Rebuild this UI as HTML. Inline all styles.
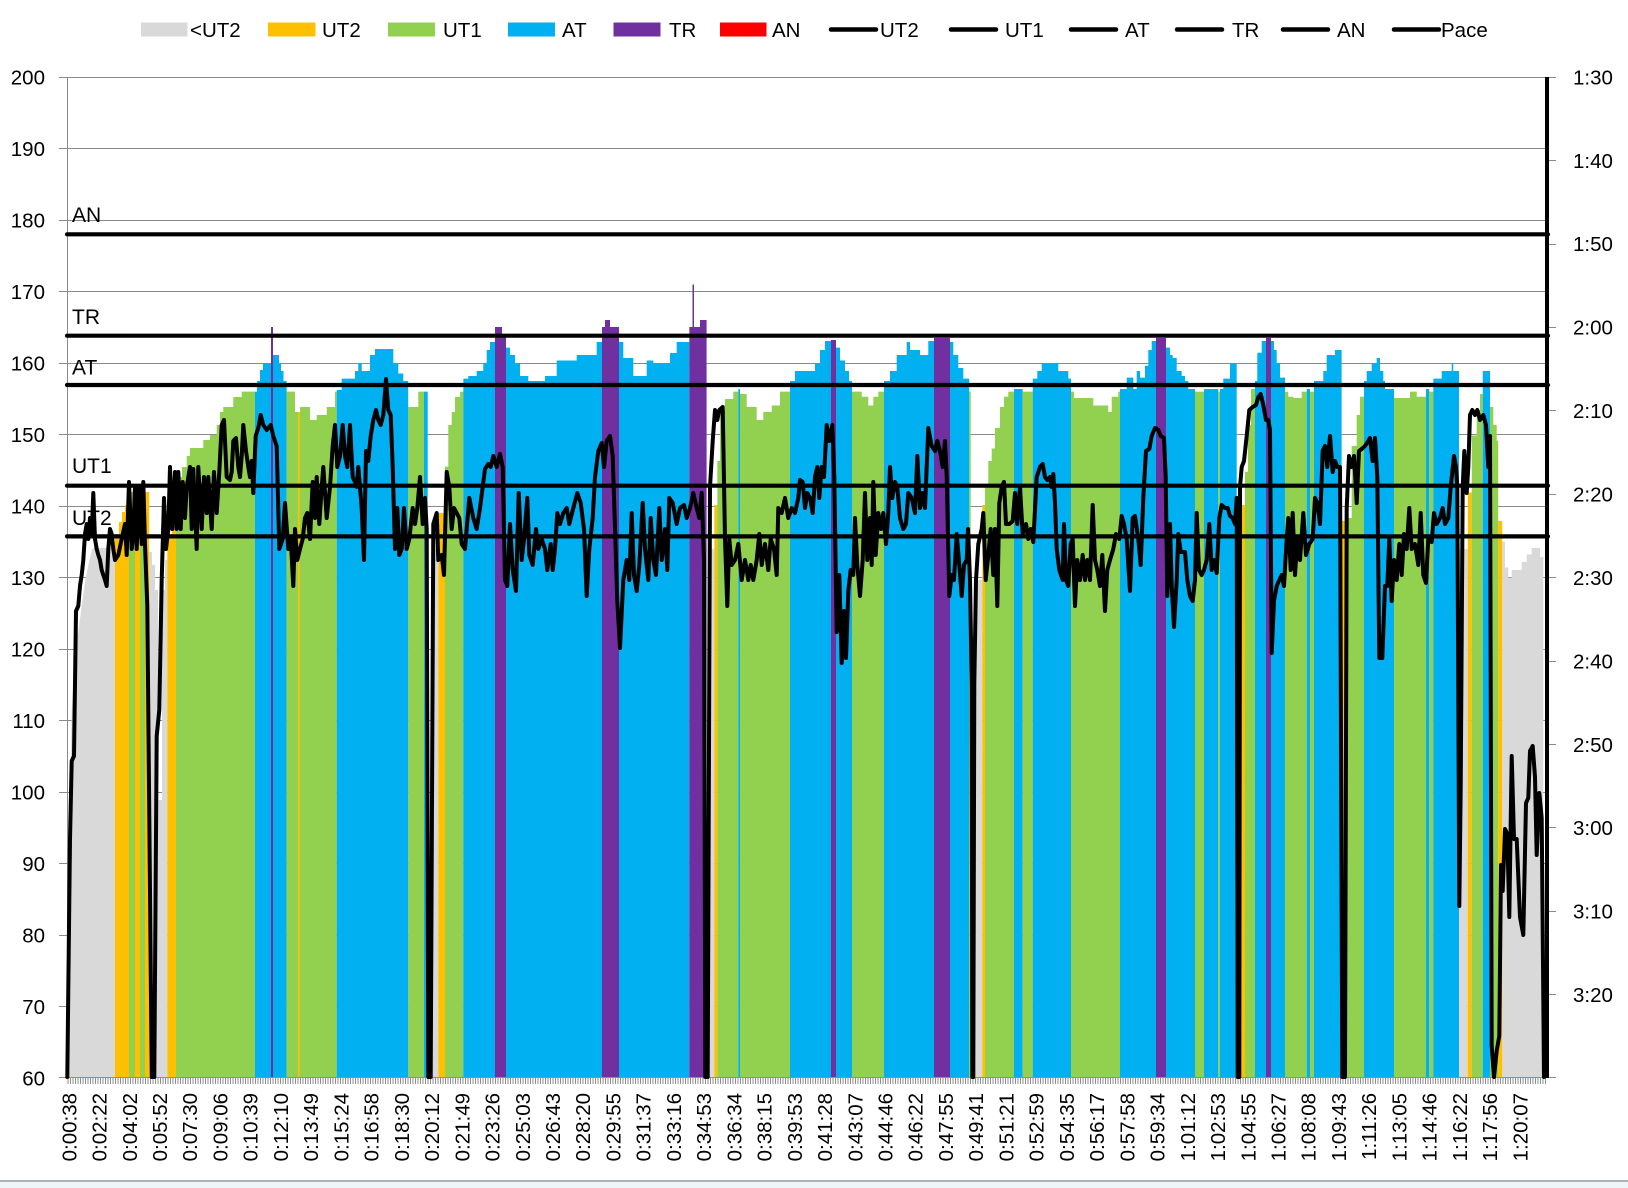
<!DOCTYPE html>
<html><head><meta charset="utf-8"><style>
html,body{margin:0;padding:0;background:#fff;}
svg{display:block;}
text{font-family:"Liberation Sans",Arial,sans-serif;}
</style></head><body>
<svg width="1628" height="1188" viewBox="0 0 1628 1188" xmlns="http://www.w3.org/2000/svg">
<defs>
<pattern id="tk" width="2.5" height="8" patternUnits="userSpaceOnUse"><rect width="1" height="8" fill="#8c8c8c"/></pattern>
<clipPath id="hr"><path d="M67.3,1077 L68.5,880 70,790 71.7,712 73.5,680 75,645 78.3,632 81.7,606 85,582 88.3,565 91.7,550 93,548 H115 V534 H119 V522 H122 V512 H125 V505 H129 V492 H135 V490 H140 V487 H145 V492 H149.3 V552 H152 V565 H155 V590 H158 V800 H162 V590 H165 V560 H167.3 V534 H172 V518 H176 V477 H182 V467 H186.7 V456 H190 V448 H203.3 V440 H210 V435 H216.7 V425 H220 V412 H223.3 V407 H233.3 V397 H241.7 V391.6 H257 V381 H260 V370 H263 V363 H271 V327 H273 V355 H279 V363 H281 V371 H283.5 V381 H286.7 V391.6 H295 V412 H300 V407 H310 V420 H316.7 V415 H326.7 V407 H335 V391.6 H336.7 V390 H341.7 V378.6 H355 V371 H358.3 V363 H361.7 V371 H370 V355 H375 V349 H393.3 V363 H398.3 V373.5 H403.3 V381 H408.3 V407 H418.3 V391.6 H427.7 V1077 H431.7 V549 H438.3 V513 H445 V466.6 H448.3 V425 H451.7 V412 H455 V397 H460 V391.6 H463.3 V378.6 H468.3 V376 H476.7 V371 H483.3 V363 H486.7 V350 H490 V342 H495 V327 H502 V334.7 H506 V347.6 H510 V355 H515 V363 H520 V376 H528.3 V381 H545 V376 H556.7 V360.5 H576.7 V355 H596.7 V342 H602 V327 H605 V320 H610 V327 H619 V342 H623.3 V358 H633.3 V376 H646.7 V360.5 H653.3 V363 H670 V353 H676.7 V342 H689.3 V327 H692.5 V284.5 H694 V327 H700 V320 H706.7 V1077 H709.3 V549 H714.3 V505 H717.3 V461 H720 V410 H725 V399 H733.3 V391.6 H738.3 V389 H740 V394 H746.7 V407 H756.7 V420 H763.3 V412 H771.7 V405.5 H780 V391.6 H790 V381 H795 V371 H815 V363 H820 V350 H825 V341 H831 V340 H836 V347.6 H840 V360.5 H845 V371 H849 V381 H852 V391.6 H861.7 V396.7 H868.3 V405.5 H873.3 V396.7 H878.3 V391.6 H884 V381 H890 V371 H896.7 V355 H906.7 V342 H910 V350 H920 V355 H928.3 V341 H934 V338 H950 V342 H953.3 V355 H958.3 V368 H963.3 V378.6 H969.3 V391.6 H970.7 V1077 H975 V580 H982.3 V505 H985 V484.7 H988.3 V461 H991.7 V448.5 H995 V428 H1000 V407 H1004 V396.7 H1008.3 V391.6 H1014 V389 H1022.7 V391.6 H1032.7 V378.6 H1037.3 V371 H1041.7 V363 H1058.3 V371 H1068.3 V378.6 H1071 V391.6 H1074 V398 H1093.3 V405.5 H1108.3 V412 H1111.7 V396.7 H1118.3 V391.6 H1120 V389 H1126.7 V377.6 H1133.3 V389 H1136.7 V371 H1140 V377.6 H1145 V365.7 H1148.3 V350 H1151.7 V341 H1156 V338 H1166 V347.6 H1170 V355 H1172.7 V358 H1176.7 V371 H1181.7 V376 H1185 V381 H1188.3 V389 H1195 V391.6 H1204 V389 H1218.3 V391.6 H1220 V389 H1223.3 V378.6 H1230 V363 H1236.7 V1077 H1240.7 V505 H1245 V471.8 H1248 V425 H1251 V389 H1255 V381 H1257.3 V352.8 H1261.7 V341 H1266 V338 H1271 V341 H1274 V350 H1276.7 V363 H1280 V377.6 H1285 V391.6 H1288.3 V396.7 H1293.3 V398 H1301.7 V391.6 H1306.7 V389 H1310 V391.6 H1314 V381 H1323.3 V371 H1326.7 V355 H1335 V350 H1341.7 V521 H1346.7 V518 H1351.7 V446 H1356.7 V415 H1360 V396.7 H1364 V381 H1366.7 V371 H1371.7 V363 H1376.7 V358 H1380 V371 H1383.3 V381 H1385 V389 H1394 V398 H1410 V391.6 H1416.7 V396.7 H1426 V389 H1429.3 V391.6 H1433.3 V378.6 H1441.7 V371 H1451.7 V363 H1453.3 V371 H1459 V549 H1467.7 V492.5 H1471.7 V435.5 H1476.7 V410 H1480 V394 H1482.7 V371 H1490 V407 H1493.3 V425 H1496.7 V440.7 H1498.3 V521 H1502.3 V541.6 H1505 V567.5 H1508.3 V577.8 H1511.7 V570 H1521.7 V562 H1526.7 V554.5 H1531.7 V548 H1540 V557 H1543.3 V1077 Z"/></clipPath>
</defs>

<!-- Legend -->
<g font-size="20.5" fill="#000">
<rect x="141" y="22.5" width="46.5" height="14" fill="#d9d9d9"/><text x="190" y="37">&lt;UT2</text>
<rect x="268" y="22.5" width="47.5" height="14" fill="#ffc000"/><text x="322" y="37">UT2</text>
<rect x="388" y="22.5" width="47" height="14" fill="#92d050"/><text x="443" y="37">UT1</text>
<rect x="508" y="22.5" width="47" height="14" fill="#00b0f0"/><text x="562" y="37">AT</text>
<rect x="613.5" y="22.5" width="47" height="14" fill="#7030a0"/><text x="669" y="37">TR</text>
<rect x="720" y="22.5" width="46.5" height="14" fill="#ff0000"/><text x="772" y="37">AN</text>
<g stroke="#000" stroke-width="4.5" stroke-linecap="round">
<line x1="831" y1="29.5" x2="876" y2="29.5"/>
<line x1="951" y1="29.5" x2="996" y2="29.5"/>
<line x1="1071" y1="29.5" x2="1116" y2="29.5"/>
<line x1="1177" y1="29.5" x2="1222" y2="29.5"/>
<line x1="1283" y1="29.5" x2="1328" y2="29.5"/>
<line x1="1394" y1="29.5" x2="1439" y2="29.5"/>
</g>
<text x="880" y="37">UT2</text>
<text x="1005" y="37">UT1</text>
<text x="1125" y="37">AT</text>
<text x="1232" y="37">TR</text>
<text x="1337" y="37">AN</text>
<text x="1441" y="37">Pace</text>
</g>

<!-- Gridlines -->
<g stroke="#8a8a8a" stroke-width="1">
<line x1="59" y1="77.5" x2="1546" y2="77.5"/>
<line x1="59" y1="148.5" x2="1546" y2="148.5"/>
<line x1="59" y1="220.5" x2="1546" y2="220.5"/>
<line x1="59" y1="291.5" x2="1546" y2="291.5"/>
<line x1="59" y1="363.5" x2="1546" y2="363.5"/>
<line x1="59" y1="434.5" x2="1546" y2="434.5"/>
<line x1="59" y1="506.5" x2="1546" y2="506.5"/>
<line x1="59" y1="577.5" x2="1546" y2="577.5"/>
<line x1="59" y1="649.5" x2="1546" y2="649.5"/>
<line x1="59" y1="720.5" x2="1546" y2="720.5"/>
<line x1="59" y1="792.5" x2="1546" y2="792.5"/>
<line x1="59" y1="863.5" x2="1546" y2="863.5"/>
<line x1="59" y1="935.5" x2="1546" y2="935.5"/>
<line x1="59" y1="1006.5" x2="1546" y2="1006.5"/>
<line x1="59" y1="1077.5" x2="1546" y2="1077.5"/>
<line x1="67.5" y1="77" x2="67.5" y2="1078"/>
</g>

<!-- HR zone areas -->
<g clip-path="url(#hr)">
<rect x="67" y="77" width="48" height="1001" fill="#d9d9d9"/>
<rect x="115" y="77" width="14" height="1001" fill="#ffc000"/>
<rect x="129" y="77" width="6" height="1001" fill="#92d050"/>
<rect x="135" y="77" width="5" height="1001" fill="#ffc000"/>
<rect x="140" y="77" width="5" height="1001" fill="#92d050"/>
<rect x="145" y="77" width="4.3" height="1001" fill="#ffc000"/>
<rect x="149.3" y="77" width="18" height="1001" fill="#d9d9d9"/>
<rect x="167.3" y="77" width="8.7" height="1001" fill="#ffc000"/>
<rect x="176" y="77" width="79" height="1001" fill="#92d050"/>
<rect x="255" y="77" width="31.7" height="1001" fill="#00b0f0"/>
<rect x="271" y="77" width="2" height="1001" fill="#7030a0"/>
<rect x="286.7" y="77" width="50" height="1001" fill="#92d050"/>
<rect x="298" y="77" width="1.7" height="1001" fill="#ffc000"/>
<rect x="336.7" y="77" width="71.6" height="1001" fill="#00b0f0"/>
<rect x="408.3" y="77" width="15.7" height="1001" fill="#92d050"/>
<rect x="424" y="77" width="7.7" height="1001" fill="#00b0f0"/>
<rect x="431.7" y="77" width="6.6" height="1001" fill="#d9d9d9"/>
<rect x="438.3" y="77" width="6.7" height="1001" fill="#ffc000"/>
<rect x="445" y="77" width="18.3" height="1001" fill="#92d050"/>
<rect x="463.3" y="77" width="31.7" height="1001" fill="#00b0f0"/>
<rect x="495" y="77" width="11" height="1001" fill="#7030a0"/>
<rect x="506" y="77" width="96" height="1001" fill="#00b0f0"/>
<rect x="602" y="77" width="17" height="1001" fill="#7030a0"/>
<rect x="619" y="77" width="70.3" height="1001" fill="#00b0f0"/>
<rect x="689.3" y="77" width="17.4" height="1001" fill="#7030a0"/>
<rect x="706.7" y="77" width="7.6" height="1001" fill="#d9d9d9"/>
<rect x="714.3" y="77" width="3" height="1001" fill="#ffc000"/>
<rect x="717.3" y="77" width="21" height="1001" fill="#92d050"/>
<rect x="738.3" y="77" width="1.7" height="1001" fill="#00b0f0"/>
<rect x="740" y="77" width="50" height="1001" fill="#92d050"/>
<rect x="790" y="77" width="41" height="1001" fill="#00b0f0"/>
<rect x="831" y="77" width="5" height="1001" fill="#7030a0"/>
<rect x="836" y="77" width="16" height="1001" fill="#00b0f0"/>
<rect x="852" y="77" width="32" height="1001" fill="#92d050"/>
<rect x="884" y="77" width="50" height="1001" fill="#00b0f0"/>
<rect x="934" y="77" width="16" height="1001" fill="#7030a0"/>
<rect x="950" y="77" width="19.3" height="1001" fill="#00b0f0"/>
<rect x="969.3" y="77" width="5.7" height="1001" fill="#92d050"/>
<rect x="975" y="77" width="7.3" height="1001" fill="#d9d9d9"/>
<rect x="982.3" y="77" width="2.7" height="1001" fill="#ffc000"/>
<rect x="985" y="77" width="29" height="1001" fill="#92d050"/>
<rect x="1014" y="77" width="8.7" height="1001" fill="#00b0f0"/>
<rect x="1022.7" y="77" width="10" height="1001" fill="#92d050"/>
<rect x="1032.7" y="77" width="38.3" height="1001" fill="#00b0f0"/>
<rect x="1071" y="77" width="49" height="1001" fill="#92d050"/>
<rect x="1120" y="77" width="36" height="1001" fill="#00b0f0"/>
<rect x="1156" y="77" width="10" height="1001" fill="#7030a0"/>
<rect x="1166" y="77" width="29" height="1001" fill="#00b0f0"/>
<rect x="1195" y="77" width="9" height="1001" fill="#92d050"/>
<rect x="1204" y="77" width="14.3" height="1001" fill="#00b0f0"/>
<rect x="1218.3" y="77" width="1.7" height="1001" fill="#92d050"/>
<rect x="1220" y="77" width="20.7" height="1001" fill="#00b0f0"/>
<rect x="1240.7" y="77" width="4.3" height="1001" fill="#ffc000"/>
<rect x="1245" y="77" width="10" height="1001" fill="#92d050"/>
<rect x="1255" y="77" width="11" height="1001" fill="#00b0f0"/>
<rect x="1266" y="77" width="5" height="1001" fill="#7030a0"/>
<rect x="1271" y="77" width="14" height="1001" fill="#00b0f0"/>
<rect x="1285" y="77" width="21.7" height="1001" fill="#92d050"/>
<rect x="1306.7" y="77" width="3.3" height="1001" fill="#00b0f0"/>
<rect x="1310" y="77" width="4" height="1001" fill="#92d050"/>
<rect x="1314" y="77" width="27.7" height="1001" fill="#00b0f0"/>
<rect x="1341.7" y="77" width="5" height="1001" fill="#ffc000"/>
<rect x="1346.7" y="77" width="17.3" height="1001" fill="#92d050"/>
<rect x="1364" y="77" width="30" height="1001" fill="#00b0f0"/>
<rect x="1394" y="77" width="32" height="1001" fill="#92d050"/>
<rect x="1426" y="77" width="3.3" height="1001" fill="#00b0f0"/>
<rect x="1429.3" y="77" width="4" height="1001" fill="#92d050"/>
<rect x="1433.3" y="77" width="25.7" height="1001" fill="#00b0f0"/>
<rect x="1459" y="77" width="8.7" height="1001" fill="#d9d9d9"/>
<rect x="1467.7" y="77" width="4" height="1001" fill="#ffc000"/>
<rect x="1471.7" y="77" width="11" height="1001" fill="#92d050"/>
<rect x="1482.7" y="77" width="7.3" height="1001" fill="#00b0f0"/>
<rect x="1490" y="77" width="8.3" height="1001" fill="#92d050"/>
<rect x="1498.3" y="77" width="4" height="1001" fill="#ffc000"/>
<rect x="1502.3" y="77" width="42" height="1001" fill="#d9d9d9"/>
</g>

<!-- bottom axis ticks -->
<rect x="67" y="1078" width="1480" height="6" fill="url(#tk)"/>
<line x1="67" y1="1077.5" x2="1545" y2="1077.5" stroke="#d87070" stroke-width="1"/>

<!-- Threshold lines -->
<g stroke="#000" stroke-width="4.2" stroke-linecap="round">
<line x1="67" y1="234.3" x2="1548" y2="234.3"/>
<line x1="67" y1="335.7" x2="1548" y2="335.7"/>
<line x1="67" y1="385" x2="1548" y2="385"/>
<line x1="67" y1="485.7" x2="1548" y2="485.7"/>
<line x1="67" y1="536.4" x2="1548" y2="536.4"/>
</g>
<g font-size="21" fill="#000">
<text x="72" y="222">AN</text>
<text x="72" y="324">TR</text>
<text x="72" y="374.5">AT</text>
<text x="72" y="473">UT1</text>
<text x="72" y="525">UT2</text>
</g>

<!-- Pace line -->
<polyline fill="none" stroke="#000" stroke-width="4" stroke-linejoin="round" stroke-linecap="round" points="67.3,1077 70,839 71.7,761 74,756 76,611 78.3,606 80,586 81.7,575 83.3,560 85,534 86.7,524 88.3,539 90,518 91.7,534 93.3,493 95,539 96.7,549 98.3,555 100,560 101.7,570 103.3,575 105,580 106.7,586 108.3,549 110,529 111.7,534 113.3,549 115,560 118.3,555 121.7,539 125,524 126.7,555 129,482 131.7,549 133.3,534 135,487 136.7,549 139,487 141.7,544 143.3,482 145,544 147.3,606 150,891 151.7,1077 154.3,1077 156.7,736 159.3,710 161.7,580 164,498 166,549 168.3,529 170,467 172.3,529 175,472 176.7,529 178.3,472 180.7,529 182.7,482 185,518 186.7,487 190,467 191.7,529 193.3,469 196.7,549 198.3,467 201.7,529 204,477 206.7,513 208.3,477 211.7,529 214,472 216.7,513 219.3,472 221.7,425 224,420 226.7,477 230,480 231.7,472 233.3,441 236,438 238.3,467 240,477 241.7,456 243.3,425 246,451 248.3,467 250,477 251.7,461 253.3,493 255.7,436 258.3,428 260.7,415 263.3,425 266.7,430 270.7,425 273.3,436 276.7,446 279.3,549 282.7,539 285,503 288.3,549 290.7,539 293.3,586 295,529 297.3,560 300,549 302.7,539 305,518 307.3,513 310,539 312.7,482 315,518 316.7,477 319.3,524 321.7,487 323.3,467 326.7,518 330,487 332.7,446 335,425 337.3,467 340,456 342.7,425 345,456 347.3,467 350,425 352.7,477 355,482 356.7,487 358.3,467 361.7,508 364,560 366,451 368.3,461 370.7,436 373.3,420 376,410 378.3,420 380.7,425 383.3,415 386,379 388.3,410 390.7,415 392.7,467 395,549 397.3,508 399.3,555 401.7,549 404,508 406.7,549 409.3,539 412.7,508 415,524 417.3,508 420,477 422.7,524 425,498 426.7,529 428.3,1077 430.7,1077 433.3,524 436.7,513 438.3,560 441.7,555 444,575 446.7,472 449.3,487 451.7,529 454,508 456.7,513 459.3,518 461.7,544 465,549 469.3,498 473.3,518 476.7,529 480,508 482.7,487 485,469 488.3,464 490.7,467 493.3,456 496.7,467 500,454 502.7,467 505,580 507.3,586 510,524 512.7,570 516,591 518.7,493 521.7,560 524,539 527.3,498 529.3,555 532.7,565 536,529 538.3,549 541.7,539 545,549 547.3,570 550.7,544 552.7,570 555,549 557.3,513 560,524 563.3,513 566.7,508 569.3,524 573.3,508 577.3,493 580.7,503 584,529 586.7,596 589.3,549 592.7,518 595,477 598.3,451 601.7,443 604,467 606.7,441 610,436 612.7,456 615,529 617.3,601 620,648 623.3,580 626.7,560 629.3,580 631.7,513 634,575 636.7,591 639.3,565 642.7,503 645,549 648.3,580 650.7,518 653.3,560 656,575 659.3,508 661.7,560 665,529 667.3,570 669.3,498 672.7,503 676.7,524 680,508 684,505 686.7,518 690,508 693.3,493 696.7,508 699.3,518 701.7,493 704,560 705.3,1077 707.7,1077 710,487 712.7,441 715,410 717.3,420 719.3,410 722.7,407 725,539 727.3,606 729.3,539 731.7,565 735,560 738.3,544 741.7,580 745,560 748.3,580 750.7,565 753.3,580 756.7,560 759.3,534 761.7,565 765,544 768.3,570 770.7,539 774,549 776.7,575 778.3,508 781.7,513 785,498 788.3,518 791.7,508 795,513 798.3,498 800,480 802.7,482 805,508 807.3,493 810,498 812.7,513 815,477 817.3,467 819.3,498 821.7,467 824,477 826.7,425 829.3,441 832.3,425 834.3,477 836.7,632 839.3,575 841.7,663 844,611 846,658 848.3,591 850.7,570 853.3,575 855,518 857.3,565 860,596 862.7,560 865,493 867.3,560 870,518 871.7,565 873.3,482 875.7,555 878.3,513 881,529 883.3,513 886,544 888.3,513 890,467 892.3,498 895,482 897.3,487 900,518 903.3,529 906,524 908.3,493 911.7,498 915,513 917.3,456 920,508 922.7,493 925,508 928.3,428 931.7,446 935,451 937.3,441 940,451 942.7,467 945,441 946.7,477 949.3,596 951.7,575 954,580 956.7,534 959.3,565 961.7,596 964,565 966.7,560 968,529 970,580 971.7,684 972.3,1077 973.3,1077 974.3,684 976,580 978.3,544 981.7,529 983.3,513 985.7,580 988.3,555 990.7,529 993.3,575 995,529 997.3,606 999.3,503 1001.7,487 1004,482 1006,524 1009.3,524 1012.7,521 1015,493 1017.3,524 1020,487 1022.7,534 1026,524 1028.3,539 1030.7,529 1033.3,542 1036.7,477 1040,467 1042.7,464 1045,477 1047.3,480 1050,477 1051.7,487 1053.3,474 1055,503 1056.7,549 1059.3,570 1062.7,580 1064,524 1066,580 1068.3,586 1070.7,544 1072.7,539 1075,606 1077.3,560 1080,580 1082.7,555 1085,580 1087.3,560 1090,580 1092.7,505 1095,560 1097.3,570 1100,586 1102.3,555 1105,611 1107.3,570 1110,560 1113.3,549 1116,534 1119.3,539 1121.7,516 1124,524 1126.7,539 1130,591 1132.7,518 1135,516 1138.3,539 1140.7,565 1143.3,498 1146,451 1149.3,449 1151.7,436 1155,428 1158.3,430 1160.7,436 1164,438 1165.7,477 1167.3,596 1170,524 1171.7,586 1174,627 1176.7,580 1178.3,534 1180.7,552 1185,552 1187.3,580 1190,596 1192.7,601 1195,580 1196.7,513 1199,570 1201.7,575 1204,570 1206.7,560 1209.3,524 1211.7,570 1214.3,560 1216.7,573 1219.3,518 1221.7,505 1225,508 1227.7,508 1230,516 1232.7,518 1235,524 1236.7,498 1237.7,1077 1239.3,1077 1240,487 1241.7,467 1244,461 1246.7,436 1249.3,410 1252.7,407 1256,405 1258.3,397 1260.7,394 1263.3,405 1266,420 1268.3,420 1270,430 1271.7,653 1274,601 1276.7,586 1279.3,580 1281.7,575 1284,586 1286.7,539 1288.3,518 1290.7,570 1292.7,513 1295,575 1297.3,539 1300,560 1303.3,513 1306,555 1309.3,544 1312.7,539 1315,498 1317.3,503 1320,524 1322.7,451 1325,446 1327.3,467 1330,436 1332.7,472 1335,461 1337.3,467 1340,467 1342.3,1077 1345,1077 1346.7,508 1349,456 1351.7,467 1354,456 1356.7,503 1359,451 1361.7,449 1365,446 1368.3,441 1370,438 1372.7,461 1375,438 1377.3,477 1379.3,658 1382.3,658 1385,586 1387.3,586 1389.3,539 1391.7,601 1394,560 1396.7,580 1399.3,544 1401.7,575 1404,534 1406.7,549 1409.3,508 1411.7,549 1415,544 1418.3,565 1420.7,513 1423.3,575 1426,583 1428.3,539 1431.7,542 1434,513 1436.7,524 1440,518 1442.7,508 1445,524 1448.3,518 1450.7,487 1454,456 1456,467 1457.3,487 1459.3,906 1460.7,787 1462.7,487 1464.3,451 1466.7,493 1468.3,467 1470,415 1472.3,410 1475,415 1477.3,410 1480,420 1483.3,415 1486,425 1488.3,467 1490,436 1491.7,1046 1494,1077 1496.7,1051 1499.3,1036 1501,865 1502.7,891 1505,829 1507.3,834 1509.3,917 1511.7,756 1514,839 1516.7,839 1520,917 1523.3,935 1526,803 1528.3,798 1530,751 1532.7,746 1535,777 1536.7,855 1539.3,793 1541.7,818 1544,1077 1546.7,1067"/>

<!-- Right axis -->
<line x1="1547" y1="77" x2="1547" y2="1078" stroke="#000" stroke-width="4"/>
<g stroke="#8a8a8a" stroke-width="1">
<line x1="1549" y1="77.5" x2="1556" y2="77.5"/>
<line x1="1549" y1="160.5" x2="1556" y2="160.5"/>
<line x1="1549" y1="244.5" x2="1556" y2="244.5"/>
<line x1="1549" y1="327.5" x2="1556" y2="327.5"/>
<line x1="1549" y1="410.5" x2="1556" y2="410.5"/>
<line x1="1549" y1="494.5" x2="1556" y2="494.5"/>
<line x1="1549" y1="577.5" x2="1556" y2="577.5"/>
<line x1="1549" y1="661.5" x2="1556" y2="661.5"/>
<line x1="1549" y1="744.5" x2="1556" y2="744.5"/>
<line x1="1549" y1="827.5" x2="1556" y2="827.5"/>
<line x1="1549" y1="911.5" x2="1556" y2="911.5"/>
<line x1="1549" y1="994.5" x2="1556" y2="994.5"/>
<line x1="1549" y1="1077.5" x2="1556" y2="1077.5"/>
</g>
<g font-size="20.5" fill="#000">
<text x="1573" y="84.4">1:30</text>
<text x="1573" y="167.8">1:40</text>
<text x="1573" y="251.2">1:50</text>
<text x="1573" y="334.7">2:00</text>
<text x="1573" y="418.1">2:10</text>
<text x="1573" y="501.5">2:20</text>
<text x="1573" y="584.9">2:30</text>
<text x="1573" y="668.3">2:40</text>
<text x="1573" y="751.8">2:50</text>
<text x="1573" y="835.2">3:00</text>
<text x="1573" y="918.6">3:10</text>
<text x="1573" y="1002">3:20</text>
</g>

<!-- Left labels -->
<g font-size="20.5" fill="#000" text-anchor="end">
<text x="45" y="84.4">200</text>
<text x="45" y="155.9">190</text>
<text x="45" y="227.4">180</text>
<text x="45" y="298.9">170</text>
<text x="45" y="370.4">160</text>
<text x="45" y="441.9">150</text>
<text x="45" y="513.4">140</text>
<text x="45" y="584.9">130</text>
<text x="45" y="656.4">120</text>
<text x="45" y="727.9">110</text>
<text x="45" y="799.4">100</text>
<text x="45" y="870.9">90</text>
<text x="45" y="942.4">80</text>
<text x="45" y="1013.9">70</text>
<text x="45" y="1085.4">60</text>
</g>

<!-- X labels -->
<g font-size="20.5" fill="#000" text-anchor="end">
<text transform="translate(76.3,1093) rotate(-90)">0:00:38</text>
<text transform="translate(106.5,1093) rotate(-90)">0:02:22</text>
<text transform="translate(136.8,1093) rotate(-90)">0:04:02</text>
<text transform="translate(167,1093) rotate(-90)">0:05:52</text>
<text transform="translate(197.2,1093) rotate(-90)">0:07:30</text>
<text transform="translate(227.5,1093) rotate(-90)">0:09:06</text>
<text transform="translate(257.7,1093) rotate(-90)">0:10:39</text>
<text transform="translate(287.9,1093) rotate(-90)">0:12:10</text>
<text transform="translate(318.1,1093) rotate(-90)">0:13:49</text>
<text transform="translate(348.4,1093) rotate(-90)">0:15:24</text>
<text transform="translate(378.6,1093) rotate(-90)">0:16:58</text>
<text transform="translate(408.8,1093) rotate(-90)">0:18:30</text>
<text transform="translate(439.1,1093) rotate(-90)">0:20:12</text>
<text transform="translate(469.3,1093) rotate(-90)">0:21:49</text>
<text transform="translate(499.5,1093) rotate(-90)">0:23:26</text>
<text transform="translate(529.8,1093) rotate(-90)">0:25:03</text>
<text transform="translate(560,1093) rotate(-90)">0:26:43</text>
<text transform="translate(590.2,1093) rotate(-90)">0:28:20</text>
<text transform="translate(620.4,1093) rotate(-90)">0:29:55</text>
<text transform="translate(650.7,1093) rotate(-90)">0:31:37</text>
<text transform="translate(680.9,1093) rotate(-90)">0:33:16</text>
<text transform="translate(711.1,1093) rotate(-90)">0:34:53</text>
<text transform="translate(741.4,1093) rotate(-90)">0:36:34</text>
<text transform="translate(771.6,1093) rotate(-90)">0:38:15</text>
<text transform="translate(801.8,1093) rotate(-90)">0:39:53</text>
<text transform="translate(832.1,1093) rotate(-90)">0:41:28</text>
<text transform="translate(862.3,1093) rotate(-90)">0:43:07</text>
<text transform="translate(892.5,1093) rotate(-90)">0:44:46</text>
<text transform="translate(922.7,1093) rotate(-90)">0:46:22</text>
<text transform="translate(953,1093) rotate(-90)">0:47:55</text>
<text transform="translate(983.2,1093) rotate(-90)">0:49:41</text>
<text transform="translate(1013.4,1093) rotate(-90)">0:51:21</text>
<text transform="translate(1043.7,1093) rotate(-90)">0:52:59</text>
<text transform="translate(1073.9,1093) rotate(-90)">0:54:35</text>
<text transform="translate(1104.1,1093) rotate(-90)">0:56:17</text>
<text transform="translate(1134.4,1093) rotate(-90)">0:57:58</text>
<text transform="translate(1164.6,1093) rotate(-90)">0:59:34</text>
<text transform="translate(1194.8,1093) rotate(-90)">1:01:12</text>
<text transform="translate(1225,1093) rotate(-90)">1:02:53</text>
<text transform="translate(1255.3,1093) rotate(-90)">1:04:55</text>
<text transform="translate(1285.5,1093) rotate(-90)">1:06:27</text>
<text transform="translate(1315.7,1093) rotate(-90)">1:08:08</text>
<text transform="translate(1346,1093) rotate(-90)">1:09:43</text>
<text transform="translate(1376.2,1093) rotate(-90)">1:11:26</text>
<text transform="translate(1406.4,1093) rotate(-90)">1:13:05</text>
<text transform="translate(1436.7,1093) rotate(-90)">1:14:46</text>
<text transform="translate(1466.9,1093) rotate(-90)">1:16:22</text>
<text transform="translate(1497.1,1093) rotate(-90)">1:17:56</text>
<text transform="translate(1527.3,1093) rotate(-90)">1:20:07</text>
</g>

<!-- window bottom edge -->
<rect x="0" y="1180" width="1628" height="2" fill="#b0b0b0"/>
<rect x="0" y="1182" width="1628" height="6" fill="#eef6f9"/>
</svg>
</body></html>
